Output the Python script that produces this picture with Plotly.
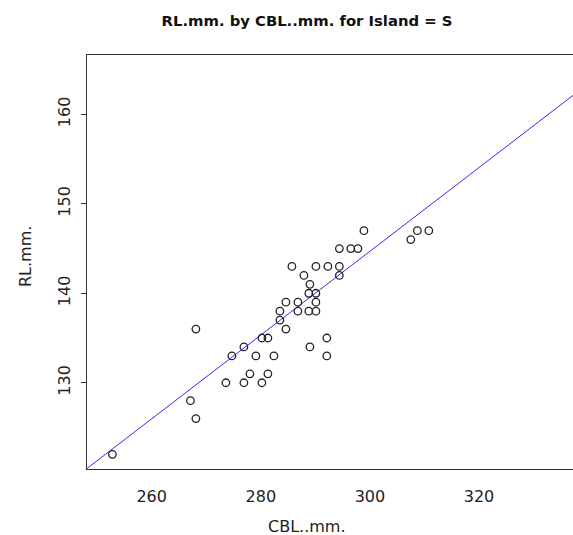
import plotly.graph_objects as go

# Skull measurements for Island = S
cbl = [252.8, 267.1, 268.1, 268.1, 273.6, 276.9, 280.2, 278.0, 281.3, 274.7,
       279.1, 282.4, 276.9, 280.2, 281.3, 283.5, 283.5, 284.6, 284.6, 286.8,
       290.1, 286.8, 288.8, 290.1, 288.8, 290.1, 289.0, 287.9, 285.7, 290.1,
       292.3, 294.4, 294.4, 294.4, 296.5, 297.8, 298.9, 307.5, 308.7, 310.8,
       289.0, 292.1, 292.1]
rl = [122, 128, 126, 136, 130, 130, 130, 131, 131, 133,
      133, 133, 134, 135, 135, 137, 138, 136, 139, 139,
      139, 138, 138, 138, 140, 140, 141, 142, 143, 143,
      143, 143, 142, 145, 145, 145, 147, 146, 147, 147,
      134, 135, 133]

# fitted line RL = a + b * CBL
intercept = 4.29
slope = 0.468

x_range = [248.14, 337.23]
y_range = [120.36, 166.63]
x_ticks = [260, 280, 300, 320]
y_ticks = [130, 140, 150, 160]

W, H = 573, 535
L, T, B = 87, 55, 469

fig = go.Figure()
fig.add_trace(go.Scatter(
    x=x_range, y=[intercept + slope * v for v in x_range],
    mode="lines", line=dict(color="#2a2aff", width=1), hoverinfo="skip",
    showlegend=False))
fig.add_trace(go.Scatter(
    x=cbl, y=rl, mode="markers", showlegend=False,
    marker=dict(symbol="circle-open", size=7.5, color="#222222",
                line=dict(width=1.3, color="#222222"))))

axis_font = dict(family="DejaVu Sans", size=16, color="#222222")
fig.update_xaxes(range=x_range, tickvals=x_ticks, showgrid=False, zeroline=False,
                 showline=True, linecolor="#333333", linewidth=1, mirror=True,
                 ticks="", tickfont=axis_font, ticklabelstandoff=13)
fig.update_yaxes(range=y_range, tickvals=y_ticks, showgrid=False, zeroline=False,
                 showline=True, linecolor="#333333", linewidth=1, mirror=False,
                 ticks="outside", ticklen=5, tickcolor="#333333", tickangle=-90,
                 tickfont=axis_font, ticklabelstandoff=5)

fig.update_layout(
    width=W, height=H, margin=dict(l=L, r=0, t=T, b=H - B),
    plot_bgcolor="white", paper_bgcolor="white",
    title=dict(text="<b>RL.mm. by CBL..mm. for Island = S</b>",
               x=307 / W, xanchor="center", xref="container",
               y=1 - 21 / H, yanchor="middle", yref="container",
               font=dict(family="DejaVu Sans", size=14.8, color="#111111")),
    annotations=[
        dict(text="CBL..mm.", xref="paper", yref="paper",
             x=(307 - L) / (W - L), y=-(526 - B) / (B - T),
             xanchor="center", yanchor="middle", showarrow=False,
             font=axis_font),
        dict(text="RL.mm.", xref="paper", yref="paper",
             x=-(L - 25) / (W - L), y=(B - 257) / (B - T),
             xanchor="center", yanchor="middle", showarrow=False,
             textangle=-90, font=axis_font),
    ],
)

fig.write_html("out.html")
